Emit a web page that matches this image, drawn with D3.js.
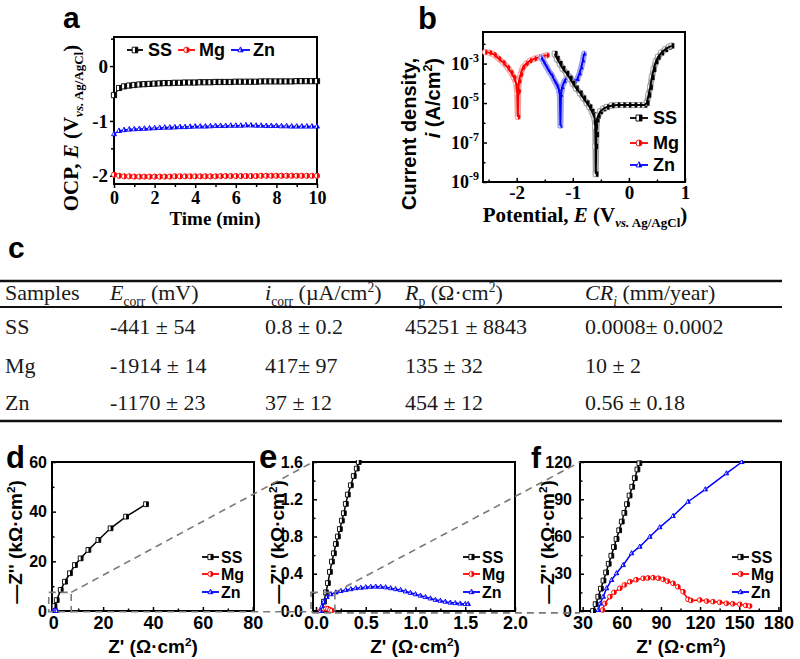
<!DOCTYPE html>
<html><head><meta charset="utf-8">
<script src="https://cdn.jsdelivr.net/npm/d3@7"></script>
<style>body{margin:0;background:#fff}svg{display:block}</style>
</head><body>
<script>
// ================= DATA =================
const seriesNames = ["SS", "Mg", "Zn"];

// (a) OCP vs time
const ocpTime = [0,0.25,0.5,0.75,1,1.25,1.5,1.75,2,2.25,2.5,2.75,3,3.25,3.5,3.75,4,4.25,4.5,4.75,5,5.25,5.5,5.75,6,6.25,6.5,6.75,7,7.25,7.5,7.75,8,8.25,8.5,8.75,9,9.25,9.5,9.75,10];
const ocpSS = [-0.53,-0.40,-0.37,-0.355,-0.345,-0.335,-0.33,-0.325,-0.32,-0.315,
  -0.31,-0.31,-0.305,-0.305,-0.30,-0.30,-0.30,-0.295,-0.295,-0.295,
  -0.29,-0.29,-0.29,-0.29,-0.285,-0.285,-0.285,-0.285,-0.285,-0.28,
  -0.28,-0.28,-0.28,-0.28,-0.28,-0.28,-0.275,-0.275,-0.275,-0.275,-0.275];
const ocpMg = [-1.98,-2.00,-2.01,-2.01,-2.015,-2.015,-2.015,-2.015,-2.015,-2.015,
  -2.015,-2.015,-2.01,-2.01,-2.01,-2.01,-2.01,-2.01,-2.01,-2.01,
  -2.01,-2.005,-2.005,-2.005,-2.005,-2.005,-2.005,-2.005,-2.005,-2.0,
  -2.0,-2.0,-2.0,-2.0,-2.0,-2.0,-2.0,-2.0,-2.0,-2.0,-2.0];
const ocpZn = [-1.24,-1.18,-1.165,-1.155,-1.15,-1.145,-1.14,-1.135,-1.13,-1.125,
  -1.12,-1.12,-1.115,-1.11,-1.11,-1.105,-1.10,-1.10,-1.10,-1.095,
  -1.09,-1.09,-1.09,-1.085,-1.085,-1.085,-1.08,-1.08,-1.085,-1.085,
  -1.09,-1.09,-1.09,-1.095,-1.095,-1.10,-1.10,-1.10,-1.10,-1.10,-1.10];

// (b) Tafel: potential (V) and log10 current density (A/cm2)
const tafelSS_E = [-1.32,-1.28,-1.23,-1.18,-1.11,-1.05,-1.00,-0.94,-0.87,-0.81,-0.75,-0.70,-0.66,-0.63,-0.61,-0.60,-0.595,-0.59,-0.58,-0.57,-0.55,-0.51,-0.45,-0.39,-0.30,-0.20,-0.10,0.00,0.10,0.20,0.28,0.32,0.35,0.38,0.41,0.44,0.48,0.52,0.58,0.65,0.72,0.76];
const tafelSS_logI = [-2.50,-2.75,-3.00,-3.25,-3.50,-3.75,-4.00,-4.25,-4.50,-4.75,-5.00,-5.20,-5.43,-5.60,-5.77,-6.20,-7.20,-8.60,-6.60,-5.85,-5.65,-5.43,-5.28,-5.20,-5.12,-5.10,-5.10,-5.10,-5.10,-5.10,-5.10,-5.00,-4.60,-4.20,-3.70,-3.30,-2.90,-2.67,-2.45,-2.28,-2.15,-2.10];
const tafelMg_E = [-2.56,-2.48,-2.40,-2.32,-2.24,-2.16,-2.10,-2.05,-2.01,-1.99,-1.98,-1.97,-1.96,-1.93,-1.89,-1.83,-1.76,-1.68,-1.60,-1.52,-1.46];
const tafelMg_logI = [-2.42,-2.45,-2.55,-2.75,-2.95,-3.20,-3.45,-3.70,-4.00,-4.50,-5.70,-4.40,-3.90,-3.55,-3.20,-3.00,-2.85,-2.75,-2.68,-2.62,-2.58];
const tafelZn_E = [-1.56,-1.52,-1.47,-1.42,-1.37,-1.32,-1.28,-1.25,-1.23,-1.22,-1.21,-1.19,-1.15,-1.10,-1.06,-1.02,-0.97,-0.92,-0.88,-0.85,-0.82,-0.80];
const tafelZn_logI = [-2.70,-2.90,-3.15,-3.40,-3.60,-3.90,-4.10,-4.30,-4.60,-6.15,-4.60,-4.20,-3.90,-3.70,-3.65,-3.80,-3.90,-3.80,-3.50,-3.20,-2.85,-2.50];

// (c) table
const tableHeaders = [
  [{t:"Samples"}],
  [{t:"E",i:true},{t:"corr",sub:true},{t:" (mV)"}],
  [{t:"i",i:true},{t:"corr",sub:true},{t:" (\u00b5A/cm"},{t:"2",sup:true},{t:")"}],
  [{t:"R",i:true},{t:"p",sub:true},{t:" (\u03a9\u00b7cm"},{t:"2",sup:true},{t:")"}],
  [{t:"CR",i:true},{t:"i",sub:true,i:true},{t:" (mm/year)"}]
];
const tableRows = [
  ["SS", "-441 \u00b1 54", "0.8 \u00b1 0.2", "45251 \u00b1 8843", "0.0008\u00b1 0.0002"],
  ["Mg", "-1914 \u00b1 14", "417\u00b1 97", "135 \u00b1 32", "10 \u00b1 2"],
  ["Zn", "-1170 \u00b1 23", "37 \u00b1 12", "454 \u00b1 12", "0.56 \u00b1 0.18"]
];

// (d) Nyquist, full range
const dSS_x = [0.0,0.5,1.4,3.0,4.7,6.7,8.7,11.0,14.1,18.1,23.0,29.2,37.2];
const dSS_y = [0.4,2.0,4.4,8.5,11.8,15.2,18.5,21.2,24.6,28.6,33.3,38.0,43.0];
const dMg_x = [0.045,0.10,0.16];
const dMg_y = [0,0.027,0.005];
const dZn_x = [0.045,0.3,0.6,1.0,1.5];
const dZn_y = [0,0.22,0.26,0.18,0.075];

// (e) Nyquist, zoom 1
const eSS_x = [0.06,0.08,0.10,0.12,0.14,0.16,0.18,0.20,0.22,0.24,0.26,0.28,0.30,0.32,0.35,0.38,0.41,0.43];
const eSS_y = [0.00,0.10,0.20,0.30,0.42,0.53,0.62,0.72,0.80,0.88,0.97,1.05,1.15,1.25,1.35,1.45,1.53,1.60];
const eMg_x = [0.045,0.06,0.08,0.10,0.12,0.14,0.16];
const eMg_y = [0,0.015,0.024,0.027,0.024,0.012,0.005];
const eZn_x = [0.045,0.06,0.08,0.11,0.15,0.20,0.25,0.30,0.35,0.40,0.45,0.50,0.55,0.60,0.65,0.70,0.75,0.80,0.85,0.90,0.95,1.00,1.05,1.10,1.15,1.20,1.25,1.30,1.35,1.40,1.45,1.50,1.53];
const eZn_y = [0.00,0.05,0.10,0.15,0.18,0.20,0.215,0.225,0.235,0.245,0.25,0.255,0.26,0.262,0.26,0.255,0.245,0.235,0.225,0.21,0.195,0.18,0.165,0.15,0.135,0.12,0.11,0.10,0.09,0.085,0.08,0.075,0.075];

// (f) Nyquist, zoom 2
const fSS_x = [38,40,42,44,46,48,50,52,54,56,58,60,62,64,66,68,70,72,73.5];
const fSS_y = [0,5.5,11.5,18,24.5,31,38,44.5,51.5,58,65,72,79,86,93,100,107,114,119];
const fMg_x = [45.3,47,50.9,54,58.5,62,66.2,71,76.4,80,84,88,91.7,95,99.3,103,107,110.8,113,119.7,125,129.9,135,140.2,145,150.4,155,158];
const fMg_y = [0.8,6,11.5,15,18.3,21,23.6,25.2,26.3,26.6,26.8,26.4,25.5,24,22.3,19.5,15.5,9.4,8.5,8.9,8,7.5,7,6.2,5.8,5.4,4.5,4];
const fZn_x = [42,43.5,45.8,48.4,52.2,56,61.1,67.5,73.8,81.5,89.1,99.3,110.8,124,140.2,152];
const fZn_y = [0.8,6,11.5,18.3,25,30.4,37,46.5,51.8,59.8,67.4,76.5,88,98,110.9,120];

// zoom boxes (data units of the panel they sit in)
const dZoomBox = {x:[-1.8, 7.2], y:[-0.3, 7.5]};
const eZoomBox = {x:[-0.05, 0.19], y:[-0.02, 0.2]};

// ================= STYLE / LAYOUT =================
const SANS = "'Liberation Sans', Arial, sans-serif";
const SERIF = "'Liberation Serif', 'Times New Roman', serif";
const colors = {SS:"#000000", Mg:"#ff0000", Zn:"#0000ff"};
const lightColors = {SS:"#a0a0a0", Mg:"#f4a0a0", Zn:"#a0a0f4"};
const shapes = {SS:"square", Mg:"circle", Zn:"triangle"};

const svg = d3.select("body").append("svg").attr("width",800).attr("height",659);

function shapePaths(shape, r){
  if (shape === "square") return [`M${-r},${-r}H${r}V${r}H${-r}Z`, `M0,${-r}H${r}V${r}H0Z`];
  if (shape === "circle") return [`M${r},0A${r},${r} 0 1 1 ${-r},0A${r},${r} 0 1 1 ${r},0Z`, `M0,${-r}A${r},${r} 0 0 1 0,${r}Z`];
  const a = 0.95*r, t = -1.1*r, b = 0.65*r;
  return [`M0,${t}L${a},${b}L${-a},${b}Z`, `M0,${t}L${a},${b}L0,${b}Z`];
}
function drawMarkers(g, pts, name, r, stroke){
  const [full, half] = shapePaths(shapes[name], r);
  const m = g.selectAll(null).data(pts).enter().append("g")
    .attr("transform", d => `translate(${d[0]},${d[1]})`);
  m.append("path").attr("d", full).attr("fill","#fff").attr("stroke", stroke || colors[name]).attr("stroke-width",0.9);
  m.append("path").attr("d", half).attr("fill", colors[name]);
}
function richText(sel, segs, size){
  let cur = 0;
  segs.forEach(s => {
    const target = s.sub ? size*0.25 : (s.sup ? -size*0.38 : 0);
    const ts = sel.append("tspan").text(s.t).attr("dy", target - cur);
    cur = target;
    if (s.sub || s.sup) ts.attr("font-size", size*0.62);
    if (s.i) ts.attr("font-style","italic");
  });
}
function axes(g, x, y, o){
  const [xl, xr] = x.range(), [yb, yt] = y.range();
  const ax = (axis, tr) => {
    const s = g.append("g").attr("transform", tr).call(axis);
    s.select(".domain").remove();
    s.selectAll("line").attr("stroke","#000").attr("stroke-width",1.5);
    return s;
  };
  ax(d3.axisBottom(x).tickValues(o.xMinor).tickSize(o.minor).tickFormat(""), `translate(0,${yb})`);
  ax(d3.axisLeft(y).tickValues(o.yMinor).tickSize(o.minor).tickFormat(""), `translate(${xl},0)`);
  const bx = ax(d3.axisBottom(x).tickValues(o.xMajor).tickSize(o.major).tickPadding(o.xPad).tickFormat(o.xFmt), `translate(0,${yb})`);
  const by = ax(d3.axisLeft(y).tickValues(o.yMajor).tickSize(o.major).tickPadding(o.yPad).tickFormat(o.yFmt), `translate(${xl},0)`);
  bx.attr("font-family", o.font).attr("font-size", o.fs).attr("font-weight","bold").selectAll("text").attr("fill","#000");
  by.attr("font-family", o.font).attr("font-size", o.yfs || o.fs).attr("font-weight","bold").selectAll("text").attr("fill","#000");
  g.append("rect").attr("x", xl).attr("y", yt).attr("width", xr-xl).attr("height", yb-yt)
    .attr("fill","none").attr("stroke","#000").attr("stroke-width",2);
}
function legend(g, items, font, fs, r){
  items.forEach(it => {
    g.append("line").attr("x1", it.x1).attr("x2", it.x2).attr("y1", it.y).attr("y2", it.y)
      .attr("stroke", colors[it.name]).attr("stroke-width", 1.8);
    drawMarkers(g, [[(it.x1+it.x2)/2, it.y]], it.name, r);
    g.append("text").attr("x", it.tx).attr("y", it.y + fs*0.36).attr("font-family", font)
      .attr("font-size", fs).attr("font-weight","bold").text(it.name);
  });
}
function panelLabel(t, x, y, fs){
  svg.append("text").attr("x",x).attr("y",y).attr("font-family",SANS).attr("font-weight","bold")
    .attr("font-size",fs).text(t);
}
const zip = (a, b) => a.map((v, i) => [v, b[i]]);

// ================= PANEL a =================
{
  const g = svg.append("g");
  const x = d3.scaleLinear().domain([0,10]).range([114,317]);
  const y = d3.scaleLinear().domain([-2.15,0.53]).range([184,37]);
  axes(g, x, y, {xMajor:[0,2,4,6,8,10], xMinor:[1,3,5,7,9], yMajor:[0,-1,-2], yMinor:[0.5,-0.5,-1.5],
    major:4, minor:3, xPad:3, yPad:2, xFmt:d=>String(d), yFmt:d=>String(d), font:SERIF, fs:18, yfs:19});
  const line = d3.line().x(d=>x(d[0])).y(d=>y(d[1]));
  [["SS",ocpSS],["Mg",ocpMg],["Zn",ocpZn]].forEach(([n, vals]) => {
    const pts = zip(ocpTime, vals);
    g.append("path").attr("d", line(pts)).attr("fill","none").attr("stroke",colors[n]).attr("stroke-width",1.3);
    drawMarkers(g, pts.map(p=>[x(p[0]), y(p[1])]), n, 2.6);
  });
  legend(g, [{name:"SS",x1:127,x2:143,tx:148,y:50},{name:"Mg",x1:178,x2:195,tx:199,y:50},{name:"Zn",x1:231,x2:250,tx:253,y:50}], SANS, 18, 2.8);
  const yl = g.append("text").attr("transform","translate(78,128) rotate(-90)").attr("text-anchor","middle")
    .attr("font-family",SERIF).attr("font-weight","bold").attr("font-size",21);
  richText(yl, [{t:"OCP, "},{t:"E",i:true},{t:" (V"},{t:"vs.",sub:true,i:true},{t:" Ag/AgCl",sub:true},{t:")"}], 21);
  g.append("text").attr("x",215).attr("y",225).attr("text-anchor","middle").attr("font-family",SERIF)
    .attr("font-weight","bold").attr("font-size",19).text("Time (min)");
  panelLabel("a", 63, 28, 30);
}

// ================= PANEL b =================
{
  const g = svg.append("g");
  const x = d3.scaleLinear().domain([-2.6,1.0]).range([483,685]);
  const y = d3.scaleLog().domain([1e-9, Math.pow(10,-1.4)]).range([182,32]);
  axes(g, x, y, {xMajor:[-2,-1,0,1], xMinor:[-2.5,-1.5,-0.5,0.5], yMajor:[1e-3,1e-5,1e-7,1e-9], yMinor:[1e-2,1e-4,1e-6,1e-8],
    major:-4, minor:-2.5, xPad:4, yPad:3, xFmt:d=>String(d), yFmt:()=>"", font:SERIF, fs:19});
  [1e-3,1e-5,1e-7,1e-9].forEach(v => {
    const t = g.append("text").attr("x",479).attr("y",y(v)+6).attr("text-anchor","end")
      .attr("font-family",SERIF).attr("font-weight","bold").attr("font-size",18);
    t.append("tspan").text("10");
    t.append("tspan").attr("dy",-8).attr("font-size",12).text(String(Math.round(Math.log10(v))));
  });
  const line = d3.line().x(d=>x(d[0])).y(d=>y(Math.pow(10,d[1])));
  const sets = [["Mg",tafelMg_E,tafelMg_logI],["Zn",tafelZn_E,tafelZn_logI],["SS",tafelSS_E,tafelSS_logI]];
  sets.forEach(([n, E, L]) => {
    const pts = zip(E, L);
    g.append("path").attr("d", line(pts)).attr("fill","none").attr("stroke",lightColors[n])
      .attr("stroke-width",6).attr("stroke-linejoin","round").attr("stroke-linecap","round");
    g.append("path").attr("d", line(pts)).attr("fill","none").attr("stroke","#fff")
      .attr("stroke-width",2.5).attr("stroke-linejoin","round").attr("opacity",0.7);
    drawMarkers(g, pts.map(p=>[x(p[0]), y(Math.pow(10,p[1]))]), n, 2.6, lightColors[n]);
    g.append("path").attr("d", line(pts)).attr("fill","none").attr("stroke",colors[n]).attr("stroke-width",2);
  });
  legend(g, [{name:"SS",x1:630,x2:648,tx:653,y:118},{name:"Mg",x1:630,x2:648,tx:653,y:143},{name:"Zn",x1:630,x2:648,tx:653,y:165}], SANS, 18, 3);
  g.append("text").attr("transform","translate(416,58) rotate(-90)").attr("text-anchor","end")
    .attr("font-family",SANS).attr("font-weight","bold").attr("font-size",20).text("Current density,");
  const l2 = g.append("text").attr("transform","translate(440,58) rotate(-90)").attr("text-anchor","end")
    .attr("font-family",SANS).attr("font-weight","bold").attr("font-size",20);
  richText(l2, [{t:"i",i:true},{t:" (A/cm"},{t:"2",sup:true},{t:")"}], 20);
  const xl = g.append("text").attr("x",585).attr("y",222).attr("text-anchor","middle").attr("font-family",SERIF)
    .attr("font-weight","bold").attr("font-size",21);
  richText(xl, [{t:"Potential, "},{t:"E",i:true},{t:" (V"},{t:"vs.",sub:true,i:true},{t:" Ag/AgCl",sub:true},{t:")"}], 21);
  panelLabel("b", 418, 29, 31);
}

// ================= PANEL c (table) =================
{
  const g = svg.append("g").attr("fill","#1a1a1a");
  const colX = [5,110,265,405,585];
  const rowY = [334,373,410];
  const fs = 22;
  g.append("line").attr("x1",0).attr("x2",782).attr("y1",281).attr("y2",281).attr("stroke","#111").attr("stroke-width",2.5);
  g.append("line").attr("x1",0).attr("x2",782).attr("y1",307).attr("y2",307).attr("stroke","#111").attr("stroke-width",2);
  g.append("line").attr("x1",0).attr("x2",782).attr("y1",421).attr("y2",421).attr("stroke","#111").attr("stroke-width",2.5);
  tableHeaders.forEach((h, i) => {
    const t = g.append("text").attr("x",colX[i]).attr("y",300).attr("font-family",SERIF).attr("font-size",fs);
    richText(t, h, fs);
  });
  tableRows.forEach((row, r) => row.forEach((cell, c) => {
    g.append("text").attr("x",colX[c]).attr("y",rowY[r]).attr("font-family",SERIF).attr("font-size",fs).text(cell);
  }));
  panelLabel("c", 8, 258, 30);
}

// ================= PANELS d, e, f =================
function nyquist(cfg){
  const g = svg.append("g");
  const x = d3.scaleLinear().domain(cfg.xd).range(cfg.xr);
  const y = d3.scaleLinear().domain(cfg.yd).range([611,462]);
  axes(g, x, y, {xMajor:cfg.xMajor, xMinor:cfg.xMinor, yMajor:cfg.yMajor, yMinor:cfg.yMinor,
    major:-4, minor:-2.5, xPad:5, yPad:cfg.yPad || 4, xFmt:cfg.xFmt, yFmt:cfg.yFmt, font:SANS, fs:18, yfs:16});
  const cid = "clip" + cfg.id;
  g.append("clipPath").attr("id",cid).append("rect").attr("x",cfg.xr[0]).attr("y",460).attr("width",cfg.xr[1]-cfg.xr[0]).attr("height",153);
  const pg = g.append("g").attr("clip-path",`url(#${cid})`);
  const line = d3.line().x(d=>x(d[0])).y(d=>y(d[1]));
  cfg.series.forEach(([n, xs, ys]) => {
    const pts = zip(xs, ys);
    pg.append("path").attr("d", line(pts)).attr("fill","none").attr("stroke",colors[n]).attr("stroke-width",1.5);
    drawMarkers(pg, pts.map(p=>[x(p[0]), y(p[1])]), n, 2.4);
  });
  legend(g, [{name:"SS",x1:cfg.lx,x2:cfg.lx+17,tx:cfg.lx+19,y:557},{name:"Mg",x1:cfg.lx,x2:cfg.lx+17,tx:cfg.lx+19,y:574},{name:"Zn",x1:cfg.lx,x2:cfg.lx+17,tx:cfg.lx+19,y:592}], SANS, 16, 2.6);
  const yl = g.append("text").attr("transform",`translate(${cfg.ylx},542) rotate(-90)`).attr("text-anchor","middle")
    .attr("font-family",SANS).attr("font-weight","bold").attr("font-size",19);
  richText(yl, [{t:"\u2014Z'' (k\u03a9\u00b7cm"},{t:"2",sup:true},{t:")"}], 19);
  const xl = g.append("text").attr("x",cfg.xlx).attr("y",653).attr("text-anchor","middle")
    .attr("font-family",SANS).attr("font-weight","bold").attr("font-size",19);
  richText(xl, [{t:"Z' (\u03a9\u00b7cm"},{t:"2",sup:true},{t:")"}], 19);
  panelLabel(cfg.label, cfg.labX, 468, cfg.labFs);
  return {x, y, g};
}
const f1 = d3.format(".1f");
const pd = nyquist({id:"d", label:"d", labX:6, labFs:31, xd:[-0.5,80.5], xr:[52,254], yd:[0,60],
  xMajor:[0,20,40,60,80], xMinor:[10,30,50,70], yMajor:[0,20,40,60], yMinor:[10,30,50],
  xFmt:d=>String(d), yFmt:d=>String(d), lx:202, ylx:22, xlx:153, yPad:5,
  series:[["SS",dSS_x,dSS_y],["Mg",dMg_x,dMg_y],["Zn",dZn_x,dZn_y]]});
const pe = nyquist({id:"e", label:"e", labX:259, labFs:33, xd:[-0.03,2.0], xr:[313,515], yd:[0,1.6],
  xMajor:[0,0.5,1,1.5,2], xMinor:[0.25,0.75,1.25,1.75], yMajor:[0,0.4,0.8,1.2,1.6], yMinor:[0.2,0.6,1.0,1.4],
  xFmt:f1, yFmt:f1, lx:463, ylx:284, xlx:415, yPad:10,
  series:[["SS",eSS_x,eSS_y],["Mg",eMg_x,eMg_y],["Zn",eZn_x,eZn_y]]});
const pf = nyquist({id:"f", label:"f", labX:531, labFs:30, xd:[28,182], xr:[580,781], yd:[0,120],
  xMajor:[30,60,90,120,150,180], xMinor:[45,75,105,135,165], yMajor:[0,30,60,90,120], yMinor:[15,45,75,105],
  xFmt:d=>String(d), yFmt:d=>String(d), lx:732, ylx:554, xlx:681, yPad:8,
  series:[["SS",fSS_x,fSS_y],["Mg",fMg_x,fMg_y],["Zn",fZn_x,fZn_y]]});

// zoom indicators
{
  const g = svg.append("g").attr("fill","none").attr("stroke","#7a7a7a").attr("stroke-width",1.6).attr("stroke-dasharray","7,5");
  const box = (p, b) => g.append("rect").attr("x",p.x(b.x[0])).attr("y",p.y(b.y[1]))
    .attr("width",p.x(b.x[1])-p.x(b.x[0])).attr("height",p.y(b.y[0])-p.y(b.y[1]));
  const seg = (x1,y1,x2,y2) => g.append("line").attr("x1",x1).attr("y1",y1).attr("x2",x2).attr("y2",y2);
  box(pd, dZoomBox); box(pe, eZoomBox);
  seg(pd.x(dZoomBox.x[1]), pd.y(dZoomBox.y[1]), pe.x(-0.03), pe.y(1.6));
  seg(pd.x(dZoomBox.x[1]), pd.y(dZoomBox.y[0]), pe.x(-0.03), pd.y(dZoomBox.y[0]));
  seg(pe.x(eZoomBox.x[1]), pe.y(eZoomBox.y[1]), pf.x(28), pf.y(120));
  seg(pe.x(eZoomBox.x[1]), pe.y(eZoomBox.y[0]), pf.x(28), pe.y(eZoomBox.y[0]));
}
</script>
</body></html>
